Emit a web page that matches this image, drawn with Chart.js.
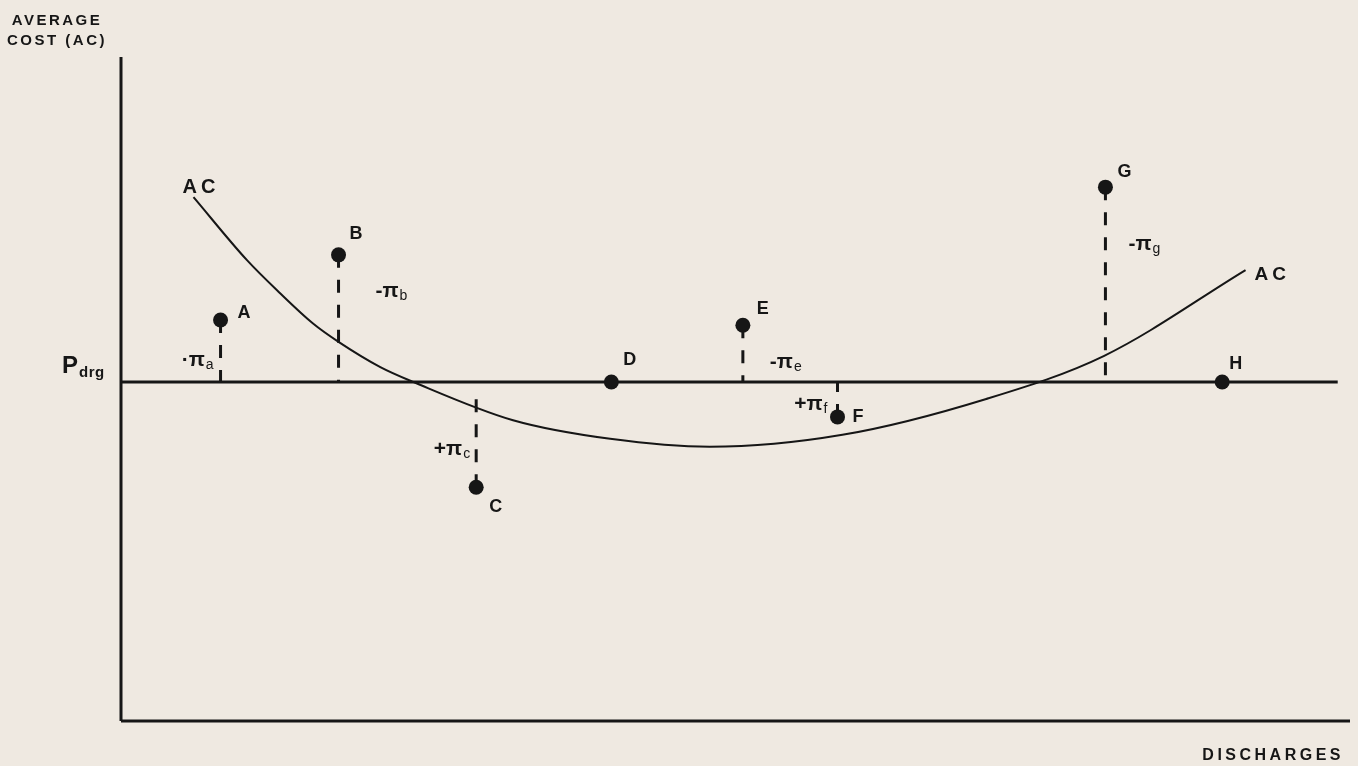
<!DOCTYPE html>
<html>
<head>
<meta charset="utf-8">
<title>Average cost vs DRG price</title>
<script src="https://cdn.jsdelivr.net/npm/chart.js@4.4.1/dist/chart.umd.min.js"></script>
<style>
  html, body { margin: 0; padding: 0; background: #efe9e1; }
  #wrap { position: relative; width: 1358px; height: 766px; }
</style>
</head>
<body>
<div id="wrap"><canvas id="chart"></canvas></div>
<script>
// ── Data (conceptual units, 0–100 on both axes) ─────────────
const pointNames = ['A', 'B', 'C', 'D', 'E', 'F', 'G', 'H'];
const pointX     = [8.1, 17.7, 28.9, 39.9, 50.6, 58.3, 80.1, 89.6];
const pointY     = [60.4, 70.2, 35.2, 51.05, 59.6, 45.8, 80.4, 51.05];

const P_DRG = 51.05;           // DRG price level
const P_DRG_END = 99.0;        // where the price line stops

// average cost curve
const acX = [5.9, 10.25, 12.9, 15.6, 17.7, 21.1, 23.8, 31.9, 39.8, 47.9, 58.7, 70.4, 80.0, 91.5];
const acY = [78.9, 69.4, 64.5, 59.9, 57.1, 53.3, 51.05, 45.3, 42.5, 41.3, 43.1, 48.5, 55.0, 67.9];

// profit/loss drops: which point, and where the dashed line ends
const dropPoint = ['A', 'B', 'C', 'E', 'F', 'G'];
const dropTo    = [P_DRG, P_DRG, 48.5, P_DRG, P_DRG, P_DRG];
const dropSign  = ['·', '-', '+', '-', '+', '-'];
const dropSub   = ['a', 'b', 'c', 'e', 'f', 'g'];

// ── Style ────────────────────────────────────────────────────
const INK  = '#161616';
const FONT = '"Liberation Sans", Arial, Helvetica, sans-serif';

// label offsets in pixels from each point
const labelOffset = {
  A: [17, -2], B: [11, -16], C: [13, 25], D: [12, -17],
  E: [14, -11], F: [15, 5], G: [12, -10], H: [7, -13],
};
// pi labels: [dx, dy, align] relative to the point
const piOffset = {
  a: [-7, 46, 'right'], b: [37, 42, 'left'], c: [-6, -32, 'right'],
  e: [27, 43, 'left'],  f: [-10, -7, 'right'], g: [23, 63, 'left'],
};

// ── Datasets ─────────────────────────────────────────────────
const seg = (x0, y0, x1, y1) => [{ x: x0, y: y0 }, { x: x1, y: y1 }];

const datasets = [
  {
    label: 'points',
    data: pointX.map((x, i) => ({ x, y: pointY[i] })),
    showLine: false,
    pointRadius: 7.5,
    pointBackgroundColor: INK,
    pointBorderWidth: 0,
  },
  {
    label: 'AC',
    data: acX.map((x, i) => ({ x, y: acY[i] })),
    showLine: true,
    borderColor: INK,
    borderWidth: 2,
    pointRadius: 0,
    cubicInterpolationMode: 'monotone',
  },
  {
    label: 'P drg',
    data: seg(0, P_DRG, P_DRG_END, P_DRG),
    showLine: true, borderColor: INK, borderWidth: 3, pointRadius: 0, clip: false,
  },
  {
    label: 'y axis',
    data: seg(0, 0, 0, 100),
    showLine: true, borderColor: INK, borderWidth: 3, pointRadius: 0, clip: false,
  },
  {
    label: 'x axis',
    data: seg(0, 0, 100, 0),
    showLine: true, borderColor: INK, borderWidth: 3, pointRadius: 0, clip: false,
  },
];

dropPoint.forEach((name, i) => {
  const k = pointNames.indexOf(name);
  datasets.push({
    label: 'drop ' + name,
    data: seg(pointX[k], pointY[k], pointX[k], dropTo[i]),
    showLine: true,
    borderColor: INK,
    borderWidth: 3,
    borderDash: [13, 12],
    pointRadius: 0,
  });
});

// ── Text plugin ──────────────────────────────────────────────
function text(ctx, str, x, y, font, align = 'left', spacing = 0) {
  ctx.font = font;
  ctx.letterSpacing = spacing + 'px';
  ctx.textAlign = align;
  ctx.textBaseline = 'alphabetic';
  ctx.fillText(str, x, y);
  ctx.letterSpacing = '0px';
}

function piLabel(ctx, sign, sub, x, y, align) {
  const main = sign + 'π';
  const mainFont = 'bold 21px ' + FONT;
  const subFont  = '14px ' + FONT;
  ctx.font = mainFont; const w1 = ctx.measureText(main).width;
  ctx.font = subFont;  const w2 = ctx.measureText(sub).width;
  const left = align === 'right' ? x - (w1 + 1 + w2) : x;
  text(ctx, main, left, y, mainFont);
  text(ctx, sub, left + w1 + 1, y + 3, subFont);
}

const labels = {
  id: 'labels',
  afterDraw(chart) {
    const { ctx, chartArea: ca } = chart;
    const sx = chart.scales.x, sy = chart.scales.y;
    ctx.save();
    ctx.fillStyle = INK;

    // axis titles
    text(ctx, 'AVERAGE', ca.left - 64, 25, 'bold 15px ' + FONT, 'center', 2.5);
    text(ctx, 'COST (AC)', ca.left - 64, 45, 'bold 15px ' + FONT, 'center', 2.5);
    text(ctx, 'DISCHARGES', ca.right - 6, 760, 'bold 16px ' + FONT, 'right', 3.5);

    // P drg
    const py = sy.getPixelForValue(P_DRG);
    text(ctx, 'P', ca.left - 59, py - 9, 'bold 24px ' + FONT);
    text(ctx, 'drg', ca.left - 42, py - 5, 'bold 15px ' + FONT, 'left', 0.5);

    // AC curve ends
    const n = acX.length - 1;
    text(ctx, 'AC', sx.getPixelForValue(acX[0]) - 11, sy.getPixelForValue(acY[0]) - 4,
         'bold 20px ' + FONT, 'left', 4);
    text(ctx, 'AC', sx.getPixelForValue(acX[n]) + 9, sy.getPixelForValue(acY[n]) + 10,
         'bold 19px ' + FONT, 'left', 4);

    // point letters
    pointNames.forEach((name, i) => {
      const [dx, dy] = labelOffset[name];
      text(ctx, name, sx.getPixelForValue(pointX[i]) + dx, sy.getPixelForValue(pointY[i]) + dy,
           'bold 18px ' + FONT);
    });

    // pi labels
    dropPoint.forEach((name, i) => {
      const k = pointNames.indexOf(name);
      const [dx, dy, align] = piOffset[dropSub[i]];
      piLabel(ctx, dropSign[i], dropSub[i],
              sx.getPixelForValue(pointX[k]) + dx, sy.getPixelForValue(pointY[k]) + dy, align);
    });
    ctx.restore();
  }
};

// ── Chart ────────────────────────────────────────────────────
new Chart(document.getElementById('chart'), {
  type: 'scatter',
  data: { datasets },
  options: {
    responsive: true,
    maintainAspectRatio: false,
    animation: false,
    layout: { padding: { left: 121, right: 8, top: 57, bottom: 45 } },
    plugins: { legend: { display: false }, tooltip: { enabled: false } },
    scales: {
      x: { type: 'linear', min: 0, max: 100, display: false },
      y: { type: 'linear', min: 0, max: 100, display: false },
    },
  },
  plugins: [labels],
});
</script>
</body>
</html>
